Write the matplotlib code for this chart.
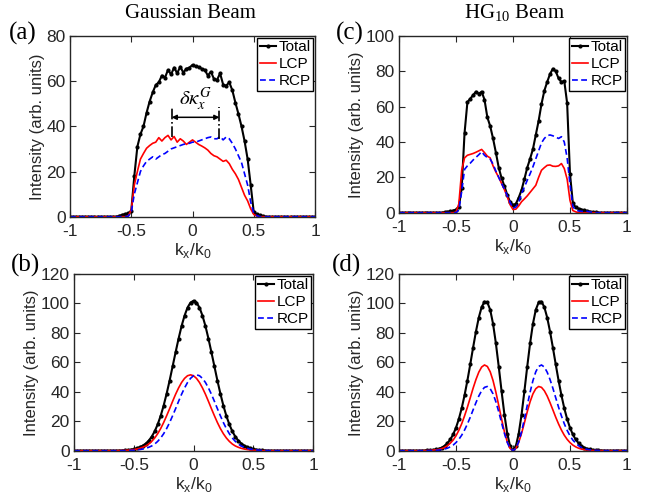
import numpy as np
import matplotlib
matplotlib.use('Agg')
import matplotlib.pyplot as plt

plt.rcParams['font.family'] = ['Liberation Sans', 'DejaVu Sans']
plt.rcParams['axes.unicode_minus'] = False

# common k_x/k_0 sampling (step 0.025)
kx = np.linspace(-1, 1, 81)

# ---- (a) Gaussian beam, measured
total_a = [0] * 16 + [
    0.3, 0.8, 1.2, 1.5, 2.5, 18, 31, 36.5, 40, 46, 51, 55, 58.3, 59.5, 62.5, 61.5,
    65, 63, 66, 63.5, 66.4, 63.8, 65.5, 66,
    67.2, 66.5, 66.3, 65.5, 65, 62.5, 64.2, 61, 60.5, 63.5, 58.5, 58, 59.5, 56,
    50.5, 45.5, 40, 33.5, 25.5, 14, 2.0, 1.0, 0.6, 0.3] + [0] * 17
lcp_a = [0] * 19 + [
    0.3, 3, 14, 20, 25.5, 28, 30.3, 31.5, 32.5, 33, 35, 33.5, 35, 36, 34, 35.5,
    33, 34.5, 33.5, 32, 33,
    34, 33, 32, 31.3, 30.5, 29.5, 28, 27, 26.5, 25.5, 24.5, 25, 23.5, 21, 19,
    16.5, 13, 9.5, 7, 3.5, 1.0, 0.3] + [0] * 19
rcp_a = [0] * 19 + [
    0.2, 2, 10, 15, 20, 22.5, 24.5, 25.5, 26.5, 25.5, 26.5, 27.5, 28, 29, 30,
    30.5, 31, 31.5, 32, 32.3, 32.5,
    33, 33, 33.5, 34, 34.5, 35, 35.3, 34.5, 34.5, 35.5, 34, 35.3, 34.5, 32.5,
    30, 27, 24, 19, 14, 6.5, 1.5, 0.5] + [0] * 19

# ---- (b) Gaussian beam, theory
total_b = [0] * 15 + [
    0.05, 0.1, 0.25, 0.4, 0.7, 1.05, 1.6, 2.35, 3.4, 4.8, 6.8, 9.5, 13.1, 17.8,
    23.6, 30.6, 38.7, 47.6, 57.2, 66.8, 76.1, 84.6, 91.7, 97.2, 100.6,
    101.8,
    100.6, 97.2, 91.7, 84.6, 76.1, 66.8, 57.2, 47.6, 38.7, 30.6, 23.6, 17.8,
    13.1, 9.5, 6.8, 4.8, 3.4, 2.35, 1.6, 1.05, 0.7, 0.4, 0.25, 0.1, 0.05] + [0] * 15
lcp_b = [0] * 15 + [
    0.05, 0.1, 0.2, 0.3, 0.5, 0.75, 1.1, 1.6, 2.3, 3.2, 4.5, 6.3, 8.6, 11.5,
    15.0, 19.1, 23.7, 28.5, 33.5, 38.3, 42.6, 46.3, 49.1, 50.9,
    51.5,
    50.9, 49.1, 46.3, 42.6, 38.3, 33.5, 28.5, 23.7, 19.1, 15.0, 11.5, 8.6, 6.3,
    4.5, 3.2, 2.3, 1.6, 1.1, 0.75, 0.5, 0.3, 0.2, 0.1, 0.05] + [0] * 17
rcp_b = [0] * 17 + [
    0.05, 0.1, 0.2, 0.3, 0.5, 0.75, 1.1, 1.6, 2.3, 3.2, 4.5, 6.3, 8.6, 11.5,
    15.0, 19.1, 23.7, 28.5, 33.5, 38.3, 42.6, 46.3, 49.1, 50.9,
    51.5,
    50.9, 49.1, 46.3, 42.6, 38.3, 33.5, 28.5, 23.7, 19.1, 15.0, 11.5, 8.6, 6.3,
    4.5, 3.2, 2.3, 1.6, 1.1, 0.75, 0.5, 0.3, 0.2, 0.1, 0.05] + [0] * 15

# ---- (c) HG10 beam, measured
total_c = [0] * 16 + [
    0.3, 0.5, 0.8, 1.2, 1.8, 3.2, 14, 45, 62.5, 64.5, 66.5, 68.5, 67.3, 68.5,
    64, 54, 49, 42, 34, 25.5, 19.5, 15, 10, 6,
    4.3, 5.0, 8.5, 12.8, 19, 25.5, 30.5, 36, 44, 52, 61.5, 69, 74, 78.5, 81.5,
    80, 76, 74, 74.5, 62, 22, 5.5, 3, 2.3, 1.8, 1.4, 1.0, 0.6, 0.4, 0.2] + [0] * 11
lcp_c = [0] * 20 + [
    0.3, 5, 24, 31, 32.5, 33, 33.5, 34.2, 35, 35.8, 34, 32, 31, 26.5, 23, 20,
    16.5, 13, 9, 4.5,
    1.8, 2.0, 3.8, 6.2, 7.8, 9.5, 11.5, 13.5, 15.5, 20, 24, 25.5, 26.8, 27,
    26.3, 26.2, 26.5, 27.8, 25, 19, 7, 1.2, 0.5] + [0] * 18
rcp_c = [0] * 21 + [
    1.5, 12, 24.5, 26.5, 28, 29.8, 31.3, 32.8, 34.5, 32.5, 31.2, 30.3, 27.5,
    23.5, 20, 16.5, 13.3, 9.5, 5.8,
    2.5, 3.2, 5.8, 10.8, 14.5, 18.3, 22, 26, 30.5, 35, 39.5, 42, 43.6, 44, 43.5,
    42.8, 42, 43, 40, 31, 16, 3.5, 1.5, 1.0, 0.8, 0.6, 0.8, 0.4, 0.2] + [0] * 12

# ---- (d) HG10 beam, theory
total_d = [0] * 8 + [
    0.05, 0.1, 0.15, 0.3, 0.5, 0.8, 1.3, 2.1, 3.3, 5.1, 7.6, 11.0, 15.6, 21.5,
    28.8, 37.6, 47.6, 58.6, 70.0, 80.9, 90.4, 97.5, 101.2, 100.7, 95.7, 86.2,
    72.9, 57.1, 40.3, 24.4, 11.5, 3.0,
    0,
    3.0, 11.5, 24.4, 40.3, 57.1, 72.9, 86.2, 95.7, 100.7, 101.2, 97.5, 90.4,
    80.9, 70.0, 58.6, 47.6, 37.6, 28.8, 21.5, 15.6, 11.0, 7.6, 5.1, 3.3, 2.1,
    1.3, 0.8, 0.5, 0.3, 0.15, 0.1, 0.05] + [0] * 8
lcp_d = [0] * 8 + [
    0.03, 0.07, 0.1, 0.2, 0.4, 0.6, 0.9, 1.4, 2.2, 3.4, 5.1, 7.2, 10.1, 13.8,
    18.3, 23.6, 29.5, 35.9, 42.4, 48.3, 53.3, 56.8, 58.2, 57.2, 53.6, 47.6,
    39.7, 30.7, 21.4, 12.8, 5.9, 1.5,
    0,
    1.5, 5.6, 11.7, 18.9, 26.4, 33.2, 38.6, 42.1, 43.6, 43.0, 40.7, 37.1, 32.6,
    27.7, 22.7, 18.1, 14.0, 10.5, 7.7, 5.5, 3.8, 2.6, 1.7, 1.1, 0.7, 0.4, 0.24,
    0.15, 0.1, 0.05, 0.03, 0.02] + [0] * 8
rcp_d = [0] * 8 + [
    0.02, 0.03, 0.05, 0.1, 0.15, 0.24, 0.4, 0.7, 1.1, 1.7, 2.6, 3.8, 5.5, 7.7,
    10.5, 14.0, 18.1, 22.7, 27.7, 32.6, 37.1, 40.7, 43.0, 43.6, 42.1, 38.6,
    33.2, 26.4, 18.9, 11.7, 5.6, 1.5,
    0,
    1.5, 5.9, 12.8, 21.4, 30.7, 39.7, 47.6, 53.6, 57.2, 58.2, 56.8, 53.3, 48.3,
    42.4, 35.9, 29.5, 23.6, 18.3, 13.8, 10.1, 7.2, 5.1, 3.4, 2.2, 1.4, 0.9,
    0.6, 0.4, 0.2, 0.1, 0.07, 0.03] + [0] * 8

xticks = [-1, -0.5, 0, 0.5, 1]
xtick_labels = ['-1', '-0.5', '0', '0.5', '1']

# gap marker positions in (a)
gap_left, gap_right = -0.17, 0.22

fig = plt.figure(figsize=(6.51, 5.04), dpi=100)
ax_a = fig.add_axes([0.1075, 0.570, 0.3764, 0.3586])
ax_c = fig.add_axes([0.6129, 0.578, 0.3502, 0.3506])
ax_b = fig.add_axes([0.1137, 0.1058, 0.3671, 0.3506])
ax_d = fig.add_axes([0.6129, 0.1058, 0.3502, 0.3506])

panels = [
    (ax_a, total_a, lcp_a, rcp_a, 80),
    (ax_b, total_b, lcp_b, rcp_b, 120),
    (ax_c, total_c, lcp_c, rcp_c, 100),
    (ax_d, total_d, lcp_d, rcp_d, 120),
]
dark = '#262626'
for ax, tot, lcp, rcp, ymax in panels:
    ax.plot(kx, tot, color='k', lw=1.5, marker='.', ms=4, label='Total')
    ax.plot(kx, lcp, color='#ff0000', lw=1.2, label='LCP')
    ax.plot(kx, rcp, color='#0000ff', lw=1.2, ls='--', dashes=(3.5, 2), label='RCP')
    ax.set_xlim(-1, 1)
    ax.set_ylim(0, ymax)
    ax.set_xticks(xticks)
    ax.set_xticklabels(xtick_labels)
    ax.set_yticks(np.arange(0, ymax + 1, 20))
    ax.tick_params(direction='in', top=True, right=True, length=4, width=0.8,
                   labelsize=12.5, colors=dark)
    ax.tick_params(axis='x', pad=5.5)
    ax.tick_params(axis='y', pad=3)
    for s in ax.spines.values():
        s.set_linewidth(1.0)
        s.set_color(dark)
    ax.set_xlabel('k$_{\\mathregular{x}}$/k$_{\\mathregular{0}}$', fontsize=12.5,
                  color=dark, labelpad=1)
    ax.set_ylabel('Intensity (arb. units)', fontsize=12, color=dark, labelpad=1)
    leg = ax.legend(loc='upper right', fontsize=11, frameon=True, fancybox=False,
                    framealpha=1, edgecolor='k', borderaxespad=0.12, borderpad=0.15,
                    handlelength=1.1, handletextpad=0.15, labelspacing=0.2,
                    numpoints=1)
    leg.get_frame().set_linewidth(1.0)

# panel tags
for x, y, tag in [(0.014, 0.933, '(a)'), (0.516, 0.933, '(c)'),
                  (0.017, 0.474, '(b)'), (0.51, 0.474, '(d)')]:
    fig.text(x, y, tag, fontsize=18, family='Liberation Serif', va='center')

fig.text(0.292, 0.974, 'Gaussian Beam', fontsize=15, family='Liberation Serif',
         ha='center', va='center')
fig.text(0.79, 0.974, 'HG$_{\\mathregular{10}}$ Beam', fontsize=15,
         family='Liberation Serif', ha='center', va='center')

# spin-split annotation in (a)
ax_a.plot([gap_left, gap_left], [35.5, 48.5], color='k', lw=1.2, ls='-.')
ax_a.plot([gap_right, gap_right], [34.5, 48.5], color='k', lw=1.2, ls='-.')
ax_a.annotate('', xy=(gap_left, 44), xytext=(gap_right, 44),
              arrowprops=dict(arrowstyle='<|-|>', color='k', lw=1.1,
                              mutation_scale=7, shrinkA=0, shrinkB=0))
ax_a.text(0.025, 52, '$\\delta\\kappa_x^G$', fontsize=15, ha='center',
          va='center', math_fontfamily='stix')

fig.savefig('out.png', dpi=100)
